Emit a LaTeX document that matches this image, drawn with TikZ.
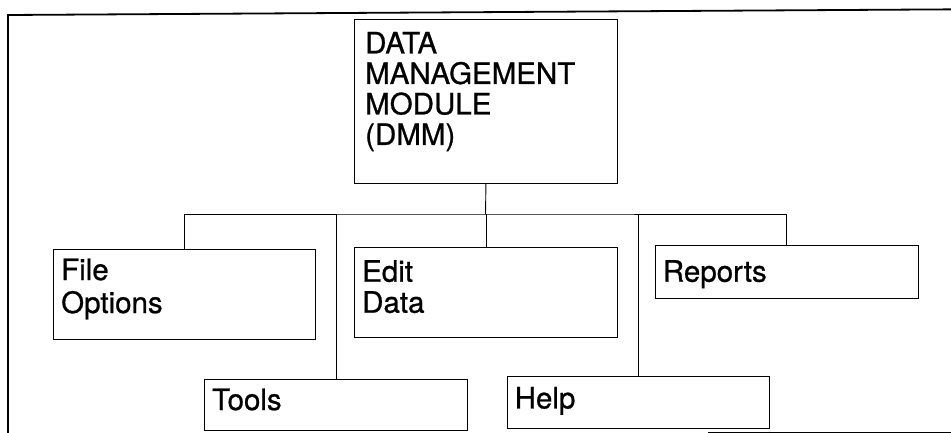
\documentclass[tikz,border=0pt]{standalone}
\usepackage{fontspec}
\setmainfont{TeX Gyre Heros}
\newfontfamily\modfont[FakeBold=0.8]{TeX Gyre Heros}
\usepackage{tikz}

\tikzset{
  frame/.style={line width=1.8pt},
  modbox/.style={draw, line width=0.9pt, anchor=north west, inner sep=0pt, minimum width=263pt},
  modtext/.style={anchor=north west, inner sep=0pt, align=left, font=\modfont\fontsize{29.5}{31}\selectfont},
  link/.style={line width=0.9pt}
}

\begin{document}
\begin{tikzpicture}[x=1pt,y=-1pt]
\useasboundingbox (0,0) rectangle (951,433);
% outer frame
\draw[frame] (8,445) -- (8,15) -- (960,9.3);
\draw[line width=0.8pt] (708,432.3) -- (960,432.3);
% boxes
\node[modbox, minimum height=164pt] (dmm) at (354,19) {};
\node[modbox, minimum width=262pt, minimum height=90pt] (file) at (53,249) {};
\node[modbox, minimum height=90pt] (edit) at (354,247) {};
\node[modbox, minimum height=53pt] (reports) at (654.5,245) {};
\node[modbox, minimum height=51.5pt] (tools) at (204,378.5) {};
\node[modbox, minimum width=262.5pt, minimum height=51.5pt] (help) at (506.5,376) {};
% texts
\node[modtext, font=\modfont\fontsize{29.5}{30.5}\selectfont] (dmmtext) at (365,31.7) {DATA\\MANAGEMENT\\MODULE\\(DMM)};
\node[modtext, font=\modfont\fontsize{29.5}{33}\selectfont] (filetext) at (61,258.3) {File\\Options};
\node[modtext] (edittext) at (362,260) {Edit\\Data};
\node[modtext] (reportstext) at (662.7,260) {Reports};
\node[modtext] (toolstext) at (212,388.3) {Tools};
\node[modtext] (helptext) at (514.5,386.7) {Help};
% connectors
\coordinate (bus) at (485.5,214);
\draw[link] (dmm.south) -- (bus);
\draw[link] (file.north) |- (bus) -| (reports.north);
\foreach \m in {tools, edit, help}
  \draw[link] (\m.north) -- (\m.north |- bus);
\end{tikzpicture}
\end{document}
